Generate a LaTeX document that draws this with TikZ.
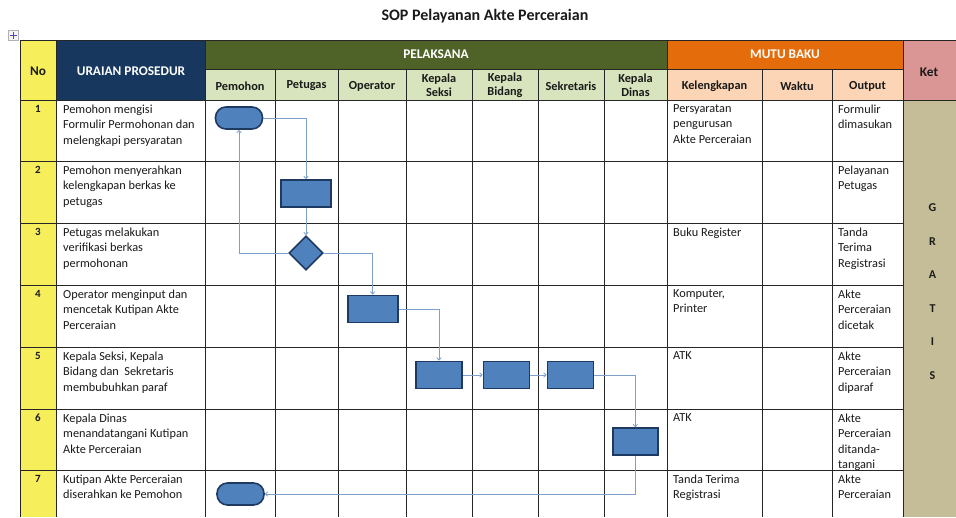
\documentclass[tikz,border=0pt]{standalone}
\usepackage{fontspec}
\setmainfont{Carlito}
\usetikzlibrary{arrows.meta,shapes.geometric}
\definecolor{noyellow}{HTML}{F7EE5C}
\definecolor{navyhead}{HTML}{17375E}
\definecolor{greenhead}{HTML}{4F6228}
\definecolor{lightgreen}{HTML}{D7E4BD}
\definecolor{orangehead}{HTML}{E46C0A}
\definecolor{peach}{HTML}{FBD5B5}
\definecolor{pinkhead}{HTML}{D99694}
\definecolor{tanbody}{HTML}{C4BD97}
\definecolor{shapefill}{HTML}{4F81BD}
\definecolor{shapeborder}{HTML}{1F3A60}
\definecolor{connblue}{HTML}{7EA1CB}
\definecolor{textdark}{HTML}{1A1A1A}
\newcommand\cellfont{\fontsize{12.3}{15.4}\selectfont}
\newcommand\headfont{\fontsize{13.3}{15}\selectfont\bfseries}
\begin{document}
\begin{tikzpicture}[x=1pt,y=-1pt,
  cell/.style={anchor=north west, inner sep=0pt, align=left, font=\cellfont, text=textdark},
  num/.style={anchor=base, inner sep=0pt, font=\fontsize{11}{12}\selectfont\bfseries, text=textdark},
  subhead/.style={inner sep=0pt, align=center, font=\fontsize{12.3}{14.5}\selectfont\bfseries, text=textdark},
  mainhead/.style={inner sep=0pt, align=center, font=\headfont},
  grat/.style={inner sep=0pt, font=\fontsize{12}{13}\selectfont\bfseries, text=textdark},
  proc/.style={draw=shapeborder, line width=1.6pt, fill=shapefill, minimum width=50pt, minimum height=27pt, inner sep=0pt},
  term/.style={draw=shapeborder, line width=1.6pt, fill=shapefill, minimum width=47pt, minimum height=22pt, inner sep=0pt, rounded corners=10.5pt},
  decis/.style={diamond, draw=shapeborder, line width=1.6pt, fill=shapefill, minimum width=34pt, minimum height=34pt, inner sep=0pt},
  conn/.style={draw=connblue, line width=0.8pt, -{Straight Barb[length=2.5pt,width=4.5pt]}},
  grid/.style={line width=0.9pt, draw=black!85}
]
\useasboundingbox (0,0) rectangle (956,517);
\fill[white] (0,0) rectangle (956,517);

% title
\node[inner sep=0pt, font=\fontsize{16}{18}\selectfont\bfseries, text=textdark] (title) at (485,16) {SOP Pelayanan Akte Perceraian};

% table move handle
\node[draw=black!30, fill=black!4, minimum width=10pt, minimum height=10pt, inner sep=0pt, line width=0.5pt] (handle) at (13,35) {};
\draw[blue!60!black!70, line width=0.7pt] (handle.center) +(-3.5,0) -- +(3.5,0) (handle.center) +(0,-3.5) -- +(0,3.5);

% fills
\fill[noyellow] (20,40) rectangle (56,517);
\fill[navyhead] (56,40) rectangle (205,100);
\fill[greenhead] (205,40) rectangle (667,69);
\fill[lightgreen] (205,69) rectangle (667,100);
\fill[orangehead] (667,40) rectangle (903,69);
\fill[peach] (667,69) rectangle (903,100);
\fill[pinkhead] (903,40) rectangle (956,100);
\fill[tanbody] (903,100) rectangle (956,517);

% grid
\draw[grid] (20,40) -- (956,40);
\draw[grid] (205,69) -- (903,69);
\draw[grid] (20,100) -- (956,100);
\foreach \y in {161,223,285,347,409,470} \draw[grid] (20,\y) -- (903,\y);
\foreach \x in {20,56,205,667,903} \draw[grid] (\x,40) -- (\x,517);
\foreach \x in {275,338,406,472,538,604,762,832} \draw[grid] (\x,69) -- (\x,517);

% headers
\node[mainhead, text=textdark] (hno) at (38,71) {No};
\node[mainhead, text=white] (hur) at (131,71) {URAIAN PROSEDUR};
\node[mainhead, text=white] (hpel) at (436,54) {PELAKSANA};
\node[mainhead, text=white] (hmut) at (785,54) {MUTU BAKU};
\node[mainhead, text=textdark] (hket) at (929,72) {Ket};
\node[subhead] (c1) at (240,86) {Pemohon};
\node[subhead] (c2) at (306.5,86) {Petugas};
\node[subhead] (c3) at (372,86) {Operator};
\node[subhead] (c4) at (439,85) {Kepala\\Seksi};
\node[subhead] (c5) at (505,85) {Kepala\\Bidang};
\node[subhead] (c6) at (571,86) {Sekretaris};
\node[subhead] (c7) at (635.5,85) {Kepala\\Dinas};
\node[subhead] (c8) at (714.5,86) {Kelengkapan};
\node[subhead] (c9) at (797,86) {Waktu};
\node[subhead] (c10) at (867.5,86) {Output};

% numbers
\foreach \n/\y in {1/100,2/161,3/223,4/285,5/347,6/409,7/470}
  \node[num] (n\n) at (38,\y+12) {\n};

% uraian
\node[cell] (u1) at (63,104.5) {Pemohon mengisi\\Formulir Permohonan dan\\melengkapi persyaratan};
\node[cell] (u2) at (63,165.5) {Pemohon menyerahkan\\kelengkapan berkas ke\\petugas};
\node[cell] (u3) at (63,227.5) {Petugas melakukan\\verifikasi berkas\\permohonan};
\node[cell] (u4) at (63,289.5) {Operator menginput dan\\mencetak Kutipan Akte\\Perceraian};
\node[cell] (u5) at (63,351.5) {Kepala Seksi, Kepala\\Bidang dan\ \ Sekretaris\\membubuhkan paraf};
\node[cell] (u6) at (63,413.5) {Kepala Dinas\\menandatangani Kutipan\\Akte Perceraian};
\node[cell] (u7) at (63,474.5) {Kutipan Akte Perceraian\\diserahkan ke Pemohon};

% kelengkapan
\node[cell] (k1) at (673,104.5) {Persyaratan\\pengurusan\\Akte Perceraian};
\node[cell] (k3) at (673,227.5) {Buku Register};
\node[cell] (k4) at (673,289.5) {Komputer,\\Printer};
\node[cell] (k5) at (673,351.5) {ATK};
\node[cell] (k6) at (673,413.5) {ATK};
\node[cell] (k7) at (673,474.5) {Tanda Terima\\Registrasi};

% output
\node[cell] (o1) at (838,104.5) {Formulir\\dimasukan};
\node[cell] (o2) at (838,165.5) {Pelayanan\\Petugas};
\node[cell] (o3) at (838,227.5) {Tanda\\Terima\\Registrasi};
\node[cell] (o4) at (838,289.5) {Akte\\Perceraian\\dicetak};
\node[cell] (o5) at (838,351.5) {Akte\\Perceraian\\diparaf};
\node[cell] (o6) at (838,413.5) {Akte\\Perceraian\\ditanda-\\tangani};
\node[cell] (o7) at (838,474.5) {Akte\\Perceraian};

% GRATIS
\foreach \l/\y in {G/208,R/241.5,A/275,T/308.5,I/342,S/375.5}
  \node[grat] (g\l) at (932.5,\y) {\l};

% flow shapes
\node[term] (s1) at (239,118) {};
\node[proc] (p2) at (306,193.5) {};
\node[decis] (d3) at (306,253) {};
\node[proc] (p4) at (372.7,309) {};
\node[proc, minimum width=46pt] (p5a) at (439,375) {};
\node[proc, minimum width=46pt] (p5b) at (506.5,375) {};
\node[proc, minimum width=46pt] (p5c) at (570.5,375) {};
\node[proc, minimum width=45pt] (p6) at (635.3,441.7) {};
\node[term] (e7) at (240.5,494) {};

% connectors
\draw[conn] (s1.east) -| (p2.north);
\draw[conn] (p2.south) -- (d3.north);
\draw[conn] (d3.west) -| (s1.south);
\draw[conn] (d3.east) -| (p4.north);
\draw[conn] (p4.east) -| (p5a.north);
\draw[conn] (p5a.east) -- (p5b.west);
\draw[conn] (p5b.east) -- (p5c.west);
\draw[conn] (p5c.east) -| (p6.north);
\draw[conn] (p6.south) |- (e7.east);
\end{tikzpicture}
\end{document}
